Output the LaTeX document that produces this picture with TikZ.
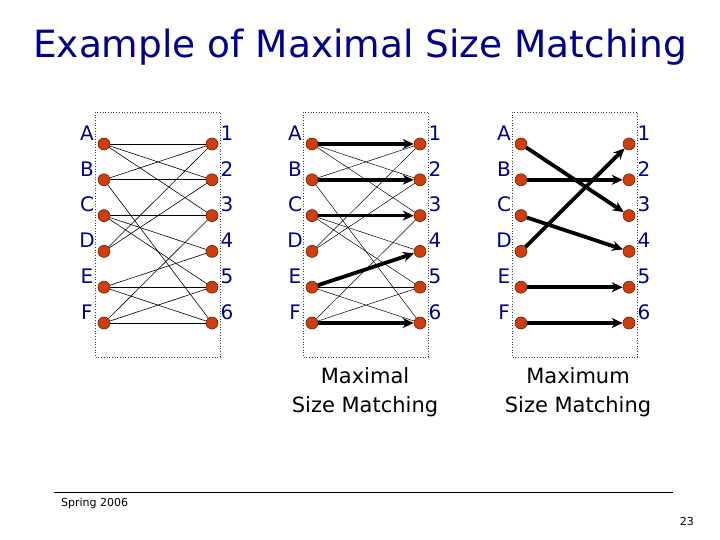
\documentclass[tikz,border=0pt]{standalone}
\usepackage{fontspec}
\setmainfont{DejaVu Sans}
\usetikzlibrary{arrows.meta}
\definecolor{titleblue}{RGB}{0,0,140}
\definecolor{dotred}{RGB}{206,62,12}
\definecolor{dotrim}{RGB}{110,30,0}

\begin{document}
\begin{tikzpicture}[x=1pt, y=-1pt,
  vertex/.style={circle, draw=dotrim, fill=dotred, line width=0.6pt, inner sep=0pt, minimum size=12pt},
  side/.style={font=\fontsize{20}{20}\selectfont, text=titleblue, inner sep=0pt},
  edge/.style={black, line width=0.6pt},
  match/.style={-{Stealth[length=11pt, width=10pt]}, black, line width=3.8pt},
  panel/.style={draw=black!75, dotted, line width=0.7pt},
  caption/.style={font=\fontsize{21}{29}\selectfont, align=center}
]
\useasboundingbox (0,0) rectangle (720,540);

\node[font=\fontsize{37.5}{38}\selectfont, text=titleblue] (title) at (360,47) {Example of Maximal Size Matching};

% three copies of the bipartite graph
\foreach \g/\x in {a/104, b/312, c/521} {
  \draw[panel] (\x-9,112) rectangle (\x+116,357);
  \foreach \l/\n [count=\i from 0] in {A/1, B/2, C/3, D/4, E/5, F/6} {
    \node[vertex] (\g\l) at (\x, 144+35.8*\i) {};
    \node[vertex] (\g\n) at (\x+108, 144+35.8*\i) {};
    \node[side] (\g lab\l) at (\x-17, 133+35.8*\i) {\l};
    \node[side] (\g lab\n) at (\x+123, 133+35.8*\i) {\n};
  }
}

% all edges (left graph)
\foreach \u/\v in {A/1, A/2, A/3, B/1, B/2, B/6, C/3, C/4, C/5, D/1, D/2, E/4, E/5, E/6, F/3, F/5, F/6}
  \draw[edge] (a\u) -- (a\v);

% maximal matching (middle graph)
\foreach \u/\v in {A/2, A/3, B/1, B/6, C/4, C/5, D/1, D/2, E/5, E/6, F/3, F/5}
  \draw[edge, line width=0.5pt] (b\u) -- (b\v);
\foreach \u/\v in {A/1, B/2, C/3, E/4, F/6}
  \draw[match] (b\u) -- (b\v);

% maximum matching (right graph)
\foreach \u/\v in {A/3, B/2, C/4, D/1, E/5, F/6}
  \draw[match] (c\u) -- (c\v);

\node[caption] (capb) at (365,392) {Maximal\\Size Matching};
\node[caption] (capc) at (578,392) {Maximum\\Size Matching};

% footer
\coordinate (rulel) at (54,492);
\coordinate (ruler) at (673,492);
\draw[line width=0.9pt] (rulel) -- (ruler);
\node[font=\fontsize{11}{11}\selectfont, anchor=west, inner sep=0pt] (season) at (61,503) {Spring 2006};
\node[font=\fontsize{11}{11}\selectfont, anchor=east, inner sep=0pt] (page) at (694,521) {23};
\end{tikzpicture}
\end{document}
